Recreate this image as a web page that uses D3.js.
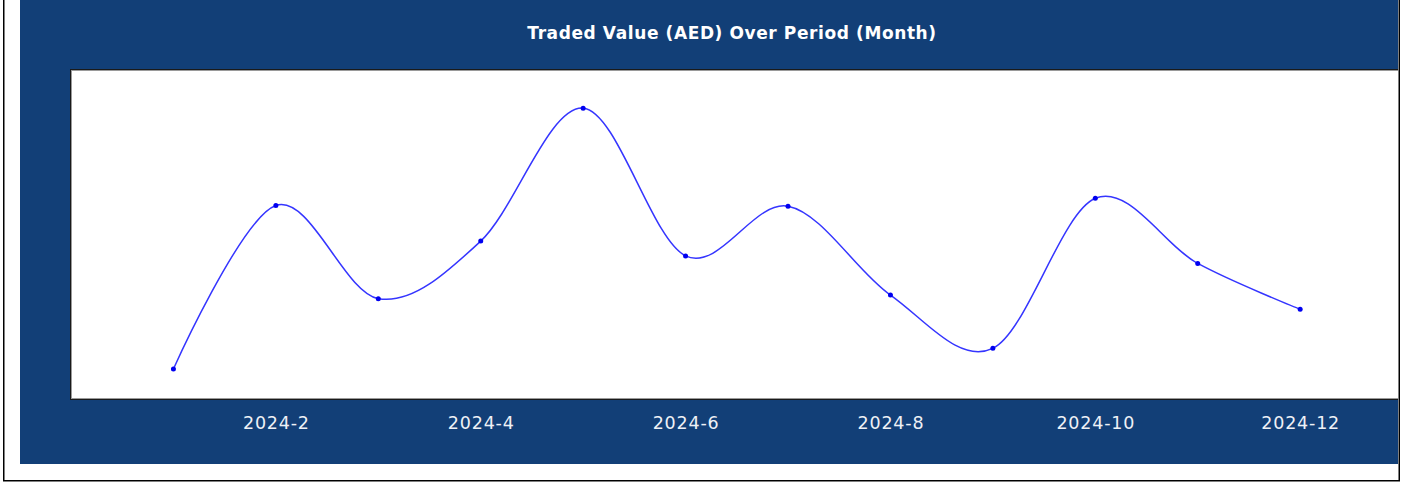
<!DOCTYPE html>
<html>
<head>
<meta charset="utf-8">
<script src="https://cdn.jsdelivr.net/npm/d3@7"></script>
<style>
  html, body { margin: 0; padding: 0; background: #fff; }
  svg { display: block; }
</style>
</head>
<body>
<svg id="chart" width="1407" height="482"></svg>
<script>
// months on the x axis (index 1..12)
var months = ['2024-1', '2024-2', '2024-3', '2024-4', '2024-5', '2024-6',
              '2024-7', '2024-8', '2024-9', '2024-10', '2024-11', '2024-12'];
// traded value (no y labels shown, relative units)
var tradedValues = [9.1, 58.8, 30.5, 48.0, 88.4, 43.5, 58.6, 31.6, 15.4, 61.0, 41.2, 27.3];
// labelled ticks
var tickMonths = [2, 4, 6, 8, 10, 12];
var titleText = 'Traded Value (AED) Over Period (Month)';

var svg = d3.select('#chart');

var panel = {x: 20, y: 0, w: 1378, h: 464};
var plot = {left: 71, top: 70, bottom: 399, step: 102.43};

// outer frame
svg.append('path')
    .attr('d', 'M3.75,0 V480.75 H1399.25 V0')
    .attr('fill', 'none')
    .attr('stroke', '#000')
    .attr('stroke-width', 1.5);

// blue panel
svg.append('rect')
    .attr('x', panel.x)
    .attr('y', panel.y)
    .attr('width', panel.w)
    .attr('height', panel.h)
    .attr('fill', '#123f77');

svg.append('defs').append('clipPath')
    .attr('id', 'panel-clip')
    .append('rect')
    .attr('x', panel.x)
    .attr('y', panel.y)
    .attr('width', panel.w)
    .attr('height', panel.h);

var g = svg.append('g').attr('clip-path', 'url(#panel-clip)');

var x = d3.scaleLinear()
    .domain([0, months.length + 1])
    .range([plot.left, plot.left + (months.length + 1) * plot.step]);

var y = d3.scaleLinear()
    .domain([0, 100])
    .range([plot.bottom, plot.top]);

var plotRight = x.range()[1];

// plot background with inset border
g.append('rect')
    .attr('x', plot.left - 0.5)
    .attr('y', plot.top - 0.5)
    .attr('width', plotRight - plot.left + 1)
    .attr('height', plot.bottom - plot.top + 1)
    .attr('fill', '#fff')
    .attr('stroke', '#1a1a1a')
    .attr('stroke-width', 1);
g.append('rect')
    .attr('x', plot.left + 0.5)
    .attr('y', plot.top + 0.5)
    .attr('width', plotRight - plot.left - 1)
    .attr('height', plot.bottom - plot.top - 1)
    .attr('fill', 'none')
    .attr('stroke', '#9a9a9a')
    .attr('stroke-width', 1);

// title
svg.append('text')
    .attr('x', 732)
    .attr('y', 39)
    .attr('text-anchor', 'middle')
    .attr('font-family', 'DejaVu Sans, Verdana, sans-serif')
    .attr('font-weight', 'bold')
    .attr('font-size', 17)
    .attr('letter-spacing', 0.6)
    .attr('fill', '#fff')
    .text(titleText);

// x axis labels
var xAxis = d3.axisBottom(x)
    .tickValues(tickMonths)
    .tickSize(0)
    .tickPadding(0)
    .tickFormat(function (d) { return months[d - 1]; });

var axisG = g.append('g')
    .attr('transform', 'translate(0,' + (plot.bottom + 1) + ')')
    .call(xAxis);
axisG.select('.domain').remove();
axisG.selectAll('text')
    .attr('y', 29)
    .attr('dy', 0)
    .attr('font-family', 'DejaVu Sans, Verdana, sans-serif')
    .attr('font-size', 17.5)
    .attr('letter-spacing', 0.8)
    .attr('fill', '#eef1f6');

// line
var points = tradedValues.map(function (v, i) { return {m: i + 1, v: v}; });

var line = d3.line()
    .x(function (d) { return x(d.m); })
    .y(function (d) { return y(d.v); })
    .curve(d3.curveCardinal);

g.append('path')
    .datum(points)
    .attr('d', line)
    .attr('fill', 'none')
    .attr('stroke', '#3535ff')
    .attr('stroke-width', 1.5);

g.selectAll('circle.pt')
    .data(points)
    .enter()
    .append('circle')
    .attr('class', 'pt')
    .attr('cx', function (d) { return x(d.m); })
    .attr('cy', function (d) { return y(d.v); })
    .attr('r', 2.5)
    .attr('fill', '#0000f0');
</script>
</body>
</html>
